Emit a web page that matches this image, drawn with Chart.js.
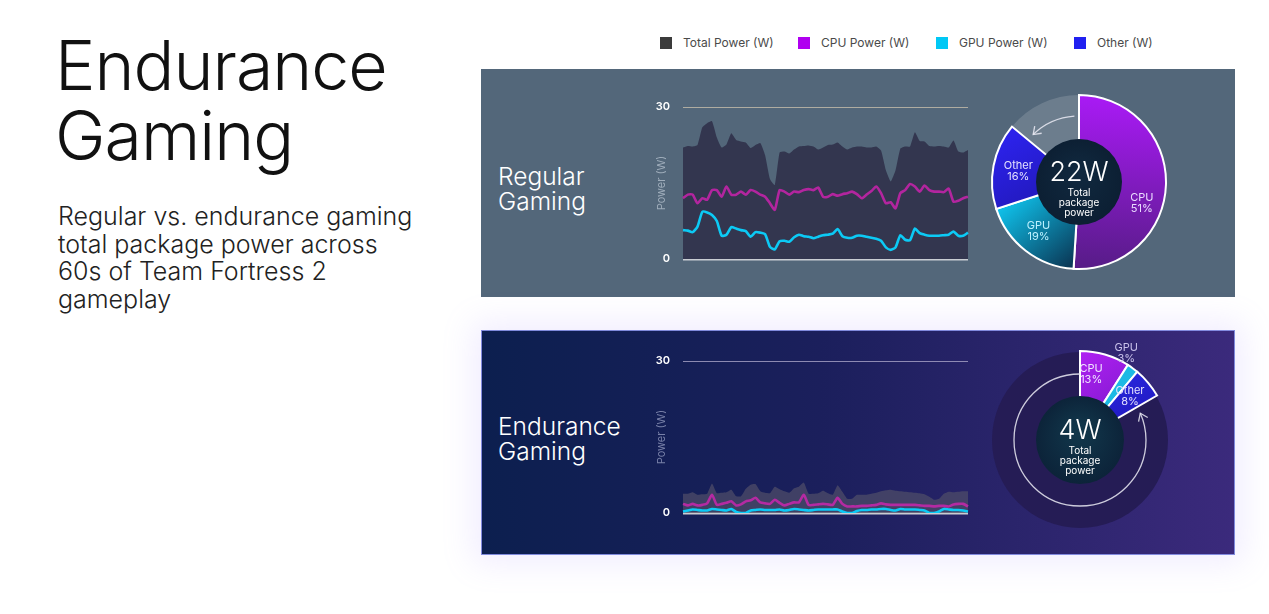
<!DOCTYPE html>
<html>
<head>
<meta charset="utf-8">
<script src="https://cdn.jsdelivr.net/npm/chart.js@4.4.0/dist/chart.umd.min.js"></script>
<style>
  html, body { margin: 0; padding: 0; background: #fff; }
  body { width: 1269px; height: 614px; position: relative; overflow: hidden; font-family: Inter, "Open Sans", sans-serif; }
  .abs { position: absolute; }
  #title { left: 55px; top: 30px; font-size: 68px; line-height: 70px; font-weight: 300; color: #111; letter-spacing: -1px; }
  #subtitle { left: 58px; top: 203px; font-size: 25px; line-height: 27.7px; font-weight: 300; color: #222; }
  #legend { left: 660px; top: 35px; display: flex; font-size: 12px; color: #4a4a4a; }
  .item { width: 138px; display: flex; align-items: center; }
  .swatch { width: 12px; height: 12px; margin-right: 11px; }
  .panel { position: absolute; left: 481px; width: 754px; box-sizing: border-box; }
  #panelTop { top: 69px; height: 228px; background: #53677a; }
  #panelBottom { top: 330px; height: 225px; background: linear-gradient(90deg, #0c1f4f 0%, #1b1f5c 45%, #3b2a7c 100%);
    border: 1px solid rgba(140, 150, 235, 0.9); box-shadow: 0 0 30px 8px rgba(170, 140, 255, 0.16); }
  .label { left: 498px; color: #fff; font-size: 24.5px; line-height: 25px; font-weight: 300; }
</style>
</head>
<body>
<div id="title" class="abs">Endurance<br>Gaming</div>
<div id="subtitle" class="abs">Regular vs. endurance gaming<br>total package power across<br>60s of Team Fortress 2<br>gameplay</div>
<div id="legend" class="abs"></div>

<div id="panelTop" class="panel"></div>
<div id="panelBottom" class="panel"></div>
<div class="abs label" style="top:164px">Regular<br>Gaming</div>
<div class="abs label" style="top:414px">Endurance<br>Gaming</div>

<canvas id="lineTop" class="abs" width="320" height="172" style="left:655px;top:97px"></canvas>
<canvas id="lineBottom" class="abs" width="320" height="172" style="left:655px;top:351px"></canvas>
<canvas id="donutTop" class="abs" width="200" height="200" style="left:979px;top:82px"></canvas>
<canvas id="donutBottom" class="abs" width="240" height="240" style="left:960px;top:320px"></canvas>

<script>
// seconds of gameplay
const seconds = [0, 1, 2, 3, 4, 5, 6, 7, 8, 9, 10, 11, 12, 13, 14, 15, 16, 17, 18, 19,
  20, 21, 22, 23, 24, 25, 26, 27, 28, 29, 30, 31, 32, 33, 34, 35, 36, 37, 38, 39,
  40, 41, 42, 43, 44, 45, 46, 47, 48, 49, 50, 51, 52, 53, 54, 55, 56, 57, 58, 59];

const seriesNames = ['Total Power (W)', 'CPU Power (W)', 'GPU Power (W)', 'Other (W)'];
const legendColors = ['#3b3b3b', '#b000f0', '#00c8f5', '#2020f0'];

// regular gaming (W)
const regularTotal = [22.0, 22.3, 22.2, 22.5, 26.0, 26.8, 27.2, 24.0, 22.0, 22.6, 24.8, 23.5, 23.2, 23.0, 21.9, 22.5, 22.9, 20.5, 15.8, 14.6,
  21.0, 21.2, 20.8, 21.6, 22.2, 22.3, 22.4, 22.2, 21.6, 22.0, 22.5, 22.6, 23.0, 22.2, 21.6, 22.0, 22.2, 22.2, 22.0, 22.0,
  22.2, 21.4, 17.5, 15.3, 17.5, 21.8, 22.2, 22.2, 25.0, 23.3, 23.2, 22.3, 22.2, 22.3, 22.2, 22.0, 23.4, 21.2, 21.0, 21.5];
const regularCpu = [12.0, 12.7, 12.7, 11.0, 12.0, 11.7, 13.6, 13.6, 12.3, 14.3, 12.7, 12.7, 13.3, 12.7, 13.6, 13.3, 12.7, 12.3, 11.0, 9.7,
  13.6, 13.3, 12.7, 13.3, 13.2, 13.6, 13.8, 13.6, 14.1, 12.3, 12.3, 12.8, 12.5, 12.8, 13.0, 13.3, 12.8, 12.0, 12.7, 13.4,
  14.3, 13.0, 11.0, 11.2, 10.0, 13.0, 13.6, 14.8, 14.3, 13.3, 14.5, 13.6, 13.3, 13.3, 13.2, 13.9, 11.3, 11.5, 12.0, 12.3];
const regularGpu = [5.7, 5.6, 5.3, 6.4, 9.3, 9.2, 8.7, 7.5, 4.6, 4.8, 6.3, 6.0, 5.7, 5.5, 4.4, 5.3, 5.2, 4.9, 2.4, 1.9,
  3.5, 3.6, 3.4, 4.3, 4.8, 4.5, 4.4, 4.1, 4.4, 4.7, 4.8, 5.0, 5.9, 4.5, 4.2, 4.2, 4.6, 4.6, 4.4, 4.2,
  4.0, 3.6, 2.3, 1.8, 2.3, 4.7, 3.8, 3.7, 6.0, 5.1, 4.8, 4.6, 4.6, 4.6, 4.7, 4.8, 5.4, 4.6, 4.6, 5.2];

// endurance gaming (W)
const enduranceTotal = [3.8, 3.8, 4.1, 3.6, 3.7, 3.8, 5.8, 3.9, 4.0, 4.1, 4.6, 3.3, 3.3, 4.8, 5.6, 5.7, 4.3, 4.0, 3.9, 5.2,
  4.7, 4.3, 4.0, 4.9, 5.2, 6.0, 3.8, 3.8, 3.9, 4.4, 3.9, 3.6, 5.5, 4.2, 2.8, 2.8, 3.6, 3.6, 3.6, 3.8,
  4.0, 4.3, 4.5, 4.6, 4.4, 4.3, 4.2, 4.1, 4.0, 3.9, 3.7, 3.2, 2.6, 2.8, 3.8, 4.2, 4.1, 4.2, 4.3, 4.3];
const enduranceCpu = [1.8, 1.5, 1.8, 1.5, 1.6, 1.9, 3.6, 1.6, 1.8, 2.0, 2.3, 1.5, 1.7, 2.3, 2.5, 3.0, 2.1, 1.9, 1.8, 2.6,
  2.0, 1.5, 1.8, 2.1, 2.1, 3.6, 1.6, 1.6, 1.7, 1.8, 1.7, 1.6, 3.0, 1.8, 1.3, 1.3, 1.3, 1.4, 1.4, 1.5,
  1.6, 1.9, 1.7, 1.6, 1.6, 1.6, 1.6, 1.6, 1.6, 1.5, 1.4, 1.4, 1.3, 1.4, 1.4, 1.3, 1.7, 1.8, 1.8, 1.3];
const enduranceGpu = [0.3, 0.5, 0.7, 0.6, 0.5, 0.5, 0.8, 0.7, 0.6, 0.5, 0.8, 0.2, 0.0, 0.0, 0.5, 0.6, 0.7, 0.6, 0.6, 0.6,
  0.7, 0.5, 0.6, 0.8, 0.7, 0.6, 0.5, 0.6, 0.7, 0.7, 0.7, 0.7, 0.7, 0.3, 0.0, 0.0, 0.4, 0.6, 0.6, 0.7,
  0.7, 0.8, 0.8, 0.6, 0.5, 0.8, 0.7, 0.7, 0.7, 0.6, 0.5, 0.0, 0.0, 0.3, 0.8, 0.7, 0.6, 0.6, 0.5, 0.3];

// package power share (%)
const shareLabels = ['CPU', 'GPU', 'Other', ''];
const regularShare = [51, 19, 16, 14];
const enduranceShare = [13, 3, 8];
const regularWatts = '22W';
const enduranceWatts = '4W';

// legend
const legend = document.getElementById('legend');
seriesNames.forEach((name, i) => {
    const item = document.createElement('div');
    item.className = 'item';
    item.innerHTML = '<span class="swatch" style="background:' + legendColors[i] + '"></span>' + name;
    legend.appendChild(item);
});

function createLine(id, total, cpu, gpu, style) {
    new Chart(document.getElementById(id), {
        type: 'line',
        data: {
            labels: seconds,
            datasets: [
                { label: seriesNames[1], data: cpu, borderColor: style.cpu, borderWidth: 2.6, pointRadius: 0, tension: 0.2, fill: false, order: 1 },
                { label: seriesNames[2], data: gpu, borderColor: '#0ccaf5', borderWidth: 2.6, pointRadius: 0, tension: 0.2, fill: false, order: 1 },
                { label: seriesNames[0], data: total, borderWidth: 0, borderColor: 'rgba(0,0,0,0)', backgroundColor: style.area, pointRadius: 0, tension: 0.15, fill: 'origin', order: 3 }
            ]
        },
        options: {
            responsive: false,
            animation: false,
            layout: { padding: { top: 10, right: 7, bottom: 10, left: 0 } },
            plugins: { legend: { display: false }, tooltip: { enabled: false } },
            scales: {
                x: { display: false },
                y: {
                    min: 0,
                    max: 30,
                    afterFit: scale => { scale.width = 28; },
                    ticks: { stepSize: 30, color: '#ffffff', padding: 0, font: { family: 'Inter', size: 11, weight: '600' } },
                    grid: {
                        drawTicks: true,
                        tickLength: 13,
                        tickColor: 'rgba(0,0,0,0)',
                        color: ctx => ctx.tick.value === 0 ? '#c9cdd3' : style.grid,
                        lineWidth: ctx => ctx.tick.value === 0 ? 2.5 : 1
                    },
                    border: { display: false },
                    title: { display: true, text: 'Power (W)', color: style.title, padding: 0, font: { family: 'Inter', size: 11 } }
                }
            }
        }
    });
}

createLine('lineTop', regularTotal, regularCpu, regularGpu,
    { cpu: '#b3259f', area: '#33364f', grid: 'rgba(205,195,175,0.75)', title: '#9fadbb' });
createLine('lineBottom', enduranceTotal, enduranceCpu, enduranceGpu,
    { cpu: '#b42aa2', area: 'rgba(78,76,104,0.75)', grid: 'rgba(170,165,200,0.8)', title: '#7880a8' });

function rad(deg) { return deg * Math.PI / 180; }

function arrow(c, cx, cy, r, from, to) {
    // compass degrees, drawn anticlockwise
    c.save();
    c.strokeStyle = 'rgba(235,235,245,0.85)';
    c.lineWidth = 1.3;
    c.beginPath();
    c.arc(cx, cy, r, rad(from - 90), rad(to - 90), true);
    c.stroke();
    const a = rad(to - 90);
    const tx = cx + r * Math.cos(a), ty = cy + r * Math.sin(a);
    const dx = Math.sin(a), dy = -Math.cos(a);
    const nx = -dy, ny = dx;
    c.beginPath();
    c.moveTo(tx - dx * 7 + nx * 5, ty - dy * 7 + ny * 5);
    c.lineTo(tx, ty);
    c.lineTo(tx - dx * 7 - nx * 5, ty - dy * 7 - ny * 5);
    c.stroke();
    c.restore();
}

function centerText(c, cx, cy, watts) {
    c.save();
    c.fillStyle = '#ffffff';
    c.textAlign = 'center';
    c.textBaseline = 'middle';
    c.font = '300 27px Inter';
    c.fillText(watts, cx, cy - 9);
    c.font = '10px Inter';
    c.fillText('Total', cx, cy + 11);
    c.fillText('package', cx, cy + 21);
    c.fillText('power', cx, cy + 31);
    c.restore();
}

function createDonut(id, values, opts) {
    const recenter = {
        id: 'recenter',
        afterUpdate(chart) {
            const a = chart.chartArea;
            chart.getDatasetMeta(0).data.forEach(el => { el.x = (a.left + a.right) / 2; el.y = (a.top + a.bottom) / 2; });
        },
        beforeDatasetsDraw(chart) {
            const c = chart.ctx, a = chart.chartArea;
            const cx = (a.left + a.right) / 2, cy = (a.top + a.bottom) / 2;
            if (opts.ring) {
                c.save();
                c.fillStyle = opts.ring;
                c.beginPath(); c.arc(cx, cy, 88, 0, Math.PI * 2); c.fill();
                c.restore();
            }
        },
        afterDatasetsDraw(chart) {
            const c = chart.ctx, a = chart.chartArea;
            const cx = (a.left + a.right) / 2, cy = (a.top + a.bottom) / 2;
            c.save();
            const g = c.createRadialGradient(cx, cy - 10, 5, cx, cy, opts.hole);
            g.addColorStop(0, opts.holeColors[0]);
            g.addColorStop(1, opts.holeColors[1]);
            c.fillStyle = g;
            c.beginPath(); c.arc(cx, cy, opts.hole - 1, 0, Math.PI * 2); c.fill();
            c.restore();
            centerText(c, cx, cy, opts.watts);
            arrow(c, cx, cy, 66, opts.arrow[0], opts.arrow[1]);
            const arcs = chart.getDatasetMeta(0).data;
            c.save();
            c.textAlign = 'center';
            c.textBaseline = 'middle';
            c.font = '11px Inter';
            opts.labels.forEach((lab, i) => {
                const p = arcs[i].tooltipPosition();
                c.fillStyle = lab.color;
                c.fillText(shareLabels[i], p.x + lab.dx, p.y + lab.dy - 6);
                c.fillText(values[i] + '%', p.x + lab.dx, p.y + lab.dy + 5);
            });
            c.restore();
        }
    };

    new Chart(document.getElementById(id), {
        type: 'doughnut',
        data: {
            labels: shareLabels.slice(0, values.length),
            datasets: [{
                data: values,
                backgroundColor: ctx => {
                    const chart = ctx.chart, a = chart.chartArea;
                    if (!a) return 'transparent';
                    const cols = opts.colors[ctx.dataIndex];
                    if (!Array.isArray(cols)) return cols;
                    const cx = (a.left + a.right) / 2, cy = (a.top + a.bottom) / 2;
                    const v = cols[2];
                    const g = chart.ctx.createLinearGradient(cx + v[0], cy + v[1], cx + v[2], cy + v[3]);
                    g.addColorStop(0, cols[0]);
                    g.addColorStop(1, cols[1]);
                    return g;
                },
                borderColor: ctx => ctx.dataIndex < 3 ? '#ffffff' : 'rgba(0,0,0,0)',
                borderWidth: ctx => ctx.dataIndex < 3 ? 2 : 0,
                borderJoinStyle: 'miter'
            }]
        },
        options: {
            responsive: false,
            animation: false,
            radius: opts.radius,
            cutout: opts.hole,
            circumference: opts.span,
            rotation: 0,
            plugins: { legend: { display: false }, tooltip: { enabled: false } }
        },
        plugins: [recenter]
    });
}

createDonut('donutTop', regularShare, {
    radius: 87, hole: 44, span: 360, watts: regularWatts,
    holeColors: ['#10283e', '#0c1f33'],
    arrow: [356, 316],
    colors: [
        ['#a91af5', '#561c86', [0, -87, -10, 87]],
        ['#0fcaf4', '#0a3452', [-70, 10, -5, 85]],
        ['#2c22ea', '#2118b8', [-80, -40, -40, 30]],
        'rgba(255,255,255,0.15)'
    ],
    labels: [
        { color: '#eadcff', dx: 0, dy: 20 },
        { color: '#bdf1ff', dx: -2, dy: 0 },
        { color: '#e4e2ff', dx: 1, dy: 1 }
    ]
});

createDonut('donutBottom', enduranceShare, {
    radius: 89, hole: 45, span: 60, watts: enduranceWatts, ring: '#251c55',
    holeColors: ['#11364a', '#0c2339'],
    arrow: [0, 66],
    colors: [
        ['#b020f2', '#8c1bd8', [0, -89, 30, -40]],
        '#1cb9e4',
        ['#2a2ae6', '#2018bd', [40, -80, 70, -20]]
    ],
    labels: [
        { color: '#f0e4ff', dx: -6, dy: -6 },
        { color: '#c9c2ea', dx: 10, dy: -37 },
        { color: '#e4e2ff', dx: 3, dy: -4 }
    ]
});
</script>
</body>
</html>
